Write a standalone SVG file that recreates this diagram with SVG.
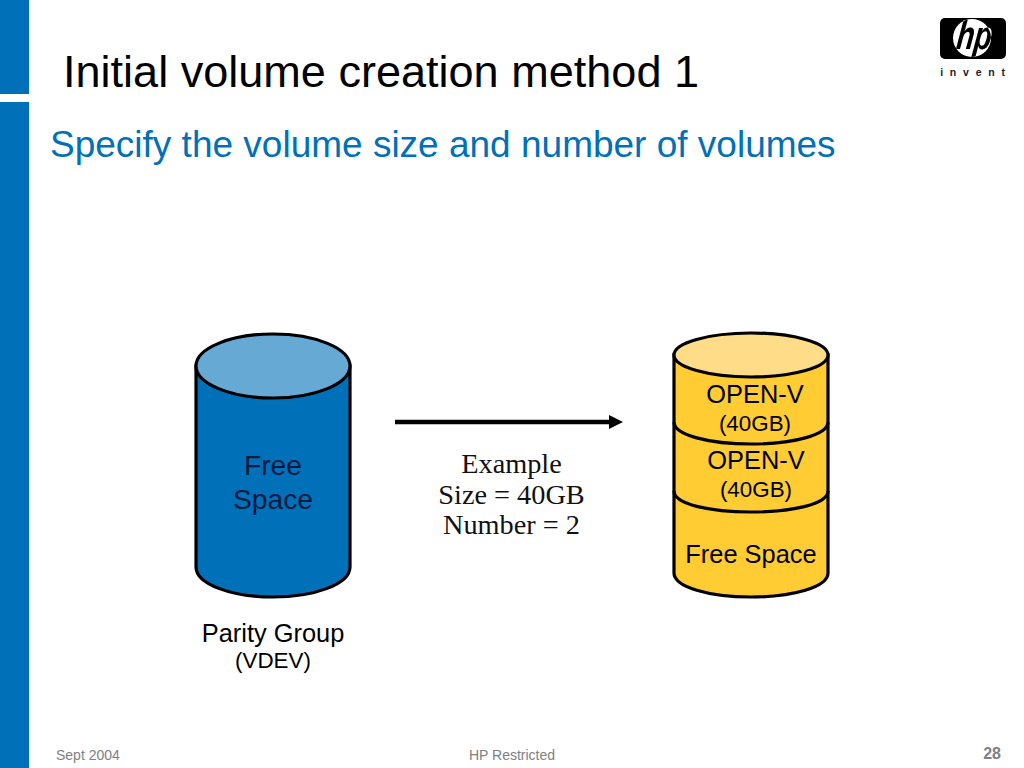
<svg xmlns="http://www.w3.org/2000/svg" width="1024" height="768" viewBox="0 0 1024 768">
<style>
text{font-family:"Liberation Sans",Arial,sans-serif;fill:#000}
.c{text-anchor:middle}
.s{stroke:#000;stroke-width:3.2}
.serif{font-family:"Liberation Serif","Times New Roman",serif;font-size:28.3px;fill:#111}
.y{fill:#FFCC33}
.n{font-size:25.4px}
.m{font-size:22.4px}
.f{fill:#808080}
</style>
<defs>
<marker id="arrow" markerUnits="userSpaceOnUse" markerWidth="14" markerHeight="16" refX="0" refY="8" orient="auto"><path d="M0 1L14 8L0 15Z" fill="#000"/></marker>
</defs>
<rect width="1024" height="768" fill="#fff"/>
<g id="sidebar" fill="#0070B8">
<rect x="0" y="0" width="29" height="94"/>
<rect x="0" y="102" width="29" height="666"/>
</g>
<text id="title" x="63" y="87" font-size="45.05">Initial volume creation method 1</text>
<text id="subtitle" x="50" y="157" font-size="37" style="fill:#0070B8">Specify the volume size and number of volumes</text>
<g id="logo">
<g style="isolation:isolate">
<rect x="940" y="18" width="66" height="41" rx="5" fill="#000"/>
<circle cx="972" cy="38" r="19" fill="#fff"/>
<text transform="translate(973 49) scale(.72 1) skewX(-10)" class="c" font-size="40" font-weight="bold" font-style="italic" style="fill:#fff;mix-blend-mode:difference">hp</text>
</g>
<text x="976" y="76" class="c" font-size="10.5" font-weight="bold" letter-spacing="6.8" style="fill:#222">invent</text>
</g>
<g id="parity-group">
<path class="s" fill="#0070B8" d="M196 366V567C196 584 231 597 273 597S350 584 350 567V366Z"/>
<ellipse class="s" cx="273" cy="366" rx="77" ry="32" fill="#66A9D4"/>
<text class="c" x="273" y="475" font-size="28.2" style="fill:#001a40">Free</text>
<text class="c" x="273" y="509" font-size="28.2" style="fill:#001a40">Space</text>
<text class="c n" x="273" y="642">Parity Group</text>
<text class="c m" x="273" y="668">(VDEV)</text>
</g>
<g id="volumes">
<path class="s y" d="M674 355V573C674 587 709 597 751 597S828 587 828 573V355Z"/>
<ellipse class="s" cx="751" cy="355" rx="77" ry="22" fill="#FFDD88"/>
<path class="s" fill="none" d="M674 422C674 435 709 444 751 444S828 435 828 422"/>
<path class="s" fill="none" d="M674 491C674 504 709 512 751 512S828 504 828 491"/>
<text class="c n" x="755" y="403">OPEN-V</text>
<text class="c m" x="755" y="431">(40GB)</text>
<text class="c n" x="756" y="469">OPEN-V</text>
<text class="c m" x="756" y="497">(40GB)</text>
<text class="c n" x="751" y="563">Free Space</text>
</g>
<g id="connectors">
<line x1="395" y1="422" x2="609" y2="422" stroke="#000" stroke-width="4.5" marker-end="url(#arrow)"/>
</g>
<g id="example">
<text class="c serif" x="511.5" y="473">Example</text>
<text class="c serif" x="511.5" y="504">Size = 40GB</text>
<text class="c serif" x="511.5" y="534">Number = 2</text>
</g>
<g id="footer">
<text class="f" x="56" y="760" font-size="14">Sept 2004</text>
<text class="c f" x="512" y="760" font-size="14">HP Restricted</text>
<text class="f" x="1001" y="759" font-size="16" font-weight="bold" text-anchor="end">28</text>
</g>
</svg>
